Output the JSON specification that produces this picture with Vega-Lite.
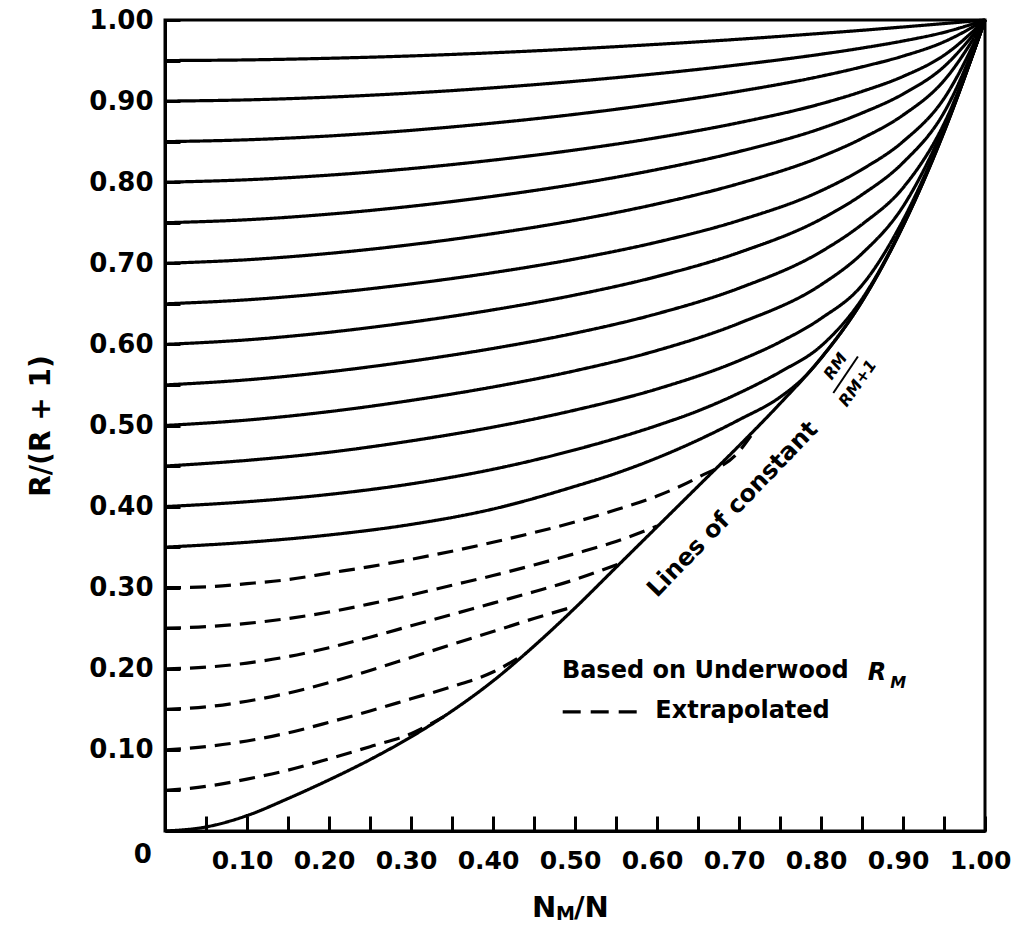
{
  "$schema": "https://vega.github.io/schema/vega-lite/v6.json",
  "width": 820,
  "height": 811,
  "autosize": "none",
  "padding": {"left": 165, "top": 20, "right": 30, "bottom": 96},
  "background": "white",
  "config": {
    "view": {"stroke": "black", "strokeWidth": 3},
    "font": "DejaVu Sans",
    "text": {"font": "DejaVu Sans", "fontWeight": "bold", "color": "black"},
    "axis": {
      "domainColor": "black", "domainWidth": 3,
      "tickColor": "black", "tickWidth": 3, "tickSize": -15,
      "labelFont": "DejaVu Sans", "labelFontSize": 26, "labelFontWeight": "bold", "labelColor": "black",
      "labelOverlap": false, "labelFlush": false, "grid": false,
      "titleFont": "DejaVu Sans", "titleColor": "black", "titleFontWeight": "bold"
    }
  },
  "datasets": {
    "curves": [
      {"c":0,"basis":"Underwood","x":0,"y":0},{"c":0,"basis":"Underwood","x":0.05,"y":0.005},{"c":0,"basis":"Underwood","x":0.1,"y":0.019},{"c":0,"basis":"Underwood","x":0.15,"y":0.04},{"c":0,"basis":"Underwood","x":0.2,"y":0.063},{"c":0,"basis":"Underwood","x":0.25,"y":0.088},{"c":0,"basis":"Underwood","x":0.3,"y":0.116},{"c":0,"basis":"Underwood","x":0.35,"y":0.148},{"c":0,"basis":"Underwood","x":0.4,"y":0.185},{"c":0,"basis":"Underwood","x":0.45,"y":0.228},{"c":0,"basis":"Underwood","x":0.5,"y":0.275},{"c":0,"basis":"Underwood","x":0.55,"y":0.325},{"c":0,"basis":"Underwood","x":0.6,"y":0.375},{"c":0,"basis":"Underwood","x":0.65,"y":0.425},{"c":0,"basis":"Underwood","x":0.7,"y":0.475},{"c":0,"basis":"Underwood","x":0.75,"y":0.527},{"c":0,"basis":"Underwood","x":0.8,"y":0.583},{"c":0,"basis":"Underwood","x":0.85,"y":0.653},{"c":0,"basis":"Underwood","x":0.9,"y":0.746},{"c":0,"basis":"Underwood","x":0.95,"y":0.862},{"c":0,"basis":"Underwood","x":1,"y":1},

      {"c":0.05,"basis":"Extrapolated","x":0,"y":0.05},{"c":0.05,"basis":"Extrapolated","x":0.05,"y":0.055},{"c":0.05,"basis":"Extrapolated","x":0.1,"y":0.064},{"c":0.05,"basis":"Extrapolated","x":0.15,"y":0.075},{"c":0.05,"basis":"Extrapolated","x":0.2,"y":0.089},{"c":0.05,"basis":"Extrapolated","x":0.25,"y":0.104},{"c":0.05,"basis":"Extrapolated","x":0.3,"y":0.12},{"c":0.05,"basis":"Extrapolated","x":0.34,"y":0.141},

      {"c":0.1,"basis":"Extrapolated","x":0,"y":0.1},{"c":0.1,"basis":"Extrapolated","x":0.05,"y":0.104},{"c":0.1,"basis":"Extrapolated","x":0.1,"y":0.111},{"c":0.1,"basis":"Extrapolated","x":0.15,"y":0.121},{"c":0.1,"basis":"Extrapolated","x":0.2,"y":0.134},{"c":0.1,"basis":"Extrapolated","x":0.25,"y":0.148},{"c":0.1,"basis":"Extrapolated","x":0.3,"y":0.163},{"c":0.1,"basis":"Extrapolated","x":0.35,"y":0.178},{"c":0.1,"basis":"Extrapolated","x":0.4,"y":0.196},{"c":0.1,"basis":"Extrapolated","x":0.44,"y":0.219},

      {"c":0.15,"basis":"Extrapolated","x":0,"y":0.15},{"c":0.15,"basis":"Extrapolated","x":0.05,"y":0.153},{"c":0.15,"basis":"Extrapolated","x":0.1,"y":0.16},{"c":0.15,"basis":"Extrapolated","x":0.15,"y":0.17},{"c":0.15,"basis":"Extrapolated","x":0.2,"y":0.183},{"c":0.15,"basis":"Extrapolated","x":0.25,"y":0.198},{"c":0.15,"basis":"Extrapolated","x":0.3,"y":0.214},{"c":0.15,"basis":"Extrapolated","x":0.35,"y":0.23},{"c":0.15,"basis":"Extrapolated","x":0.4,"y":0.246},{"c":0.15,"basis":"Extrapolated","x":0.45,"y":0.262},{"c":0.15,"basis":"Extrapolated","x":0.5,"y":0.277},

      {"c":0.2,"basis":"Extrapolated","x":0,"y":0.2},{"c":0.2,"basis":"Extrapolated","x":0.05,"y":0.202},{"c":0.2,"basis":"Extrapolated","x":0.1,"y":0.207},{"c":0.2,"basis":"Extrapolated","x":0.15,"y":0.215},{"c":0.2,"basis":"Extrapolated","x":0.2,"y":0.226},{"c":0.2,"basis":"Extrapolated","x":0.25,"y":0.239},{"c":0.2,"basis":"Extrapolated","x":0.3,"y":0.253},{"c":0.2,"basis":"Extrapolated","x":0.35,"y":0.267},{"c":0.2,"basis":"Extrapolated","x":0.4,"y":0.281},{"c":0.2,"basis":"Extrapolated","x":0.45,"y":0.295},{"c":0.2,"basis":"Extrapolated","x":0.5,"y":0.31},{"c":0.2,"basis":"Extrapolated","x":0.555,"y":0.33},

      {"c":0.25,"basis":"Extrapolated","x":0,"y":0.25},{"c":0.25,"basis":"Extrapolated","x":0.05,"y":0.252},{"c":0.25,"basis":"Extrapolated","x":0.1,"y":0.256},{"c":0.25,"basis":"Extrapolated","x":0.15,"y":0.262},{"c":0.25,"basis":"Extrapolated","x":0.2,"y":0.27},{"c":0.25,"basis":"Extrapolated","x":0.25,"y":0.28},{"c":0.25,"basis":"Extrapolated","x":0.3,"y":0.291},{"c":0.25,"basis":"Extrapolated","x":0.35,"y":0.303},{"c":0.25,"basis":"Extrapolated","x":0.4,"y":0.315},{"c":0.25,"basis":"Extrapolated","x":0.45,"y":0.328},{"c":0.25,"basis":"Extrapolated","x":0.5,"y":0.342},{"c":0.25,"basis":"Extrapolated","x":0.55,"y":0.357},{"c":0.25,"basis":"Extrapolated","x":0.6,"y":0.376},

      {"c":0.3,"basis":"Extrapolated","x":0,"y":0.3},{"c":0.3,"basis":"Extrapolated","x":0.05,"y":0.301},{"c":0.3,"basis":"Extrapolated","x":0.1,"y":0.305},{"c":0.3,"basis":"Extrapolated","x":0.15,"y":0.31},{"c":0.3,"basis":"Extrapolated","x":0.2,"y":0.318},{"c":0.3,"basis":"Extrapolated","x":0.25,"y":0.326},{"c":0.3,"basis":"Extrapolated","x":0.3,"y":0.335},{"c":0.3,"basis":"Extrapolated","x":0.35,"y":0.345},{"c":0.3,"basis":"Extrapolated","x":0.4,"y":0.356},{"c":0.3,"basis":"Extrapolated","x":0.45,"y":0.368},{"c":0.3,"basis":"Extrapolated","x":0.5,"y":0.381},{"c":0.3,"basis":"Extrapolated","x":0.55,"y":0.396},{"c":0.3,"basis":"Extrapolated","x":0.6,"y":0.413},{"c":0.3,"basis":"Extrapolated","x":0.65,"y":0.436},{"c":0.3,"basis":"Extrapolated","x":0.7,"y":0.468},{"c":0.3,"basis":"Extrapolated","x":0.715,"y":0.488},

      {"c":0.35,"basis":"Underwood","x":0,"y":0.35},{"c":0.35,"basis":"Underwood","x":0.1,"y":0.356},{"c":0.35,"basis":"Underwood","x":0.2,"y":0.365},{"c":0.35,"basis":"Underwood","x":0.3,"y":0.378},{"c":0.35,"basis":"Underwood","x":0.4,"y":0.397},{"c":0.35,"basis":"Underwood","x":0.5,"y":0.425},{"c":0.35,"basis":"Underwood","x":0.55,"y":0.441},{"c":0.35,"basis":"Underwood","x":0.6,"y":0.46},{"c":0.35,"basis":"Underwood","x":0.65,"y":0.482},{"c":0.35,"basis":"Underwood","x":0.7,"y":0.507},{"c":0.35,"basis":"Underwood","x":0.75,"y":0.535},{"c":0.35,"basis":"Underwood","x":0.78,"y":0.56},{"c":0.35,"basis":"Underwood","x":0.8,"y":0.583},{"c":0.35,"basis":"Underwood","x":0.85,"y":0.653},{"c":0.35,"basis":"Underwood","x":0.9,"y":0.746},{"c":0.35,"basis":"Underwood","x":0.95,"y":0.862},{"c":0.35,"basis":"Underwood","x":1,"y":1},

      {"c":0.4,"basis":"Underwood","x":0,"y":0.4},{"c":0.4,"basis":"Underwood","x":0.1,"y":0.406},{"c":0.4,"basis":"Underwood","x":0.2,"y":0.415},{"c":0.4,"basis":"Underwood","x":0.3,"y":0.428},{"c":0.4,"basis":"Underwood","x":0.4,"y":0.446},{"c":0.4,"basis":"Underwood","x":0.5,"y":0.47},{"c":0.4,"basis":"Underwood","x":0.6,"y":0.5},{"c":0.4,"basis":"Underwood","x":0.65,"y":0.518},{"c":0.4,"basis":"Underwood","x":0.7,"y":0.54},{"c":0.4,"basis":"Underwood","x":0.75,"y":0.566},{"c":0.4,"basis":"Underwood","x":0.8,"y":0.598},{"c":0.4,"basis":"Underwood","x":0.85,"y":0.656},{"c":0.4,"basis":"Underwood","x":0.9,"y":0.747},{"c":0.4,"basis":"Underwood","x":0.95,"y":0.863},{"c":0.4,"basis":"Underwood","x":1,"y":1},

      {"c":0.45,"basis":"Underwood","x":0,"y":0.45},{"c":0.45,"basis":"Underwood","x":0.1,"y":0.457},{"c":0.45,"basis":"Underwood","x":0.2,"y":0.467},{"c":0.45,"basis":"Underwood","x":0.3,"y":0.481},{"c":0.45,"basis":"Underwood","x":0.4,"y":0.498},{"c":0.45,"basis":"Underwood","x":0.5,"y":0.519},{"c":0.45,"basis":"Underwood","x":0.6,"y":0.545},{"c":0.45,"basis":"Underwood","x":0.7,"y":0.58},{"c":0.45,"basis":"Underwood","x":0.75,"y":0.603},{"c":0.45,"basis":"Underwood","x":0.8,"y":0.632},{"c":0.45,"basis":"Underwood","x":0.85,"y":0.673},{"c":0.45,"basis":"Underwood","x":0.9,"y":0.753},{"c":0.45,"basis":"Underwood","x":0.95,"y":0.864},{"c":0.45,"basis":"Underwood","x":1,"y":1},

      {"c":0.5,"basis":"Underwood","x":0,"y":0.5},{"c":0.5,"basis":"Underwood","x":0.1,"y":0.5067},{"c":0.5,"basis":"Underwood","x":0.2,"y":0.5171},{"c":0.5,"basis":"Underwood","x":0.3,"y":0.5309},{"c":0.5,"basis":"Underwood","x":0.4,"y":0.5475},{"c":0.5,"basis":"Underwood","x":0.5,"y":0.5675},{"c":0.5,"basis":"Underwood","x":0.6,"y":0.5925},{"c":0.5,"basis":"Underwood","x":0.7,"y":0.626},{"c":0.5,"basis":"Underwood","x":0.8,"y":0.6735},{"c":0.5,"basis":"Underwood","x":0.85,"y":0.712},{"c":0.5,"basis":"Underwood","x":0.9,"y":0.77},{"c":0.5,"basis":"Underwood","x":0.95,"y":0.868},{"c":0.5,"basis":"Underwood","x":1,"y":1},

      {"c":0.55,"basis":"Underwood","x":0,"y":0.55},{"c":0.55,"basis":"Underwood","x":0.1,"y":0.5563},{"c":0.55,"basis":"Underwood","x":0.2,"y":0.5662},{"c":0.55,"basis":"Underwood","x":0.3,"y":0.5793},{"c":0.55,"basis":"Underwood","x":0.4,"y":0.595},{"c":0.55,"basis":"Underwood","x":0.5,"y":0.6139},{"c":0.55,"basis":"Underwood","x":0.6,"y":0.6378},{"c":0.55,"basis":"Underwood","x":0.7,"y":0.6693},{"c":0.55,"basis":"Underwood","x":0.8,"y":0.7143},{"c":0.55,"basis":"Underwood","x":0.85,"y":0.748},{"c":0.55,"basis":"Underwood","x":0.9,"y":0.793},{"c":0.55,"basis":"Underwood","x":0.95,"y":0.872},{"c":0.55,"basis":"Underwood","x":1,"y":1},

      {"c":0.6,"basis":"Underwood","x":0,"y":0.6},{"c":0.6,"basis":"Underwood","x":0.1,"y":0.6056},{"c":0.6,"basis":"Underwood","x":0.2,"y":0.6149},{"c":0.6,"basis":"Underwood","x":0.3,"y":0.6274},{"c":0.6,"basis":"Underwood","x":0.4,"y":0.6426},{"c":0.6,"basis":"Underwood","x":0.5,"y":0.6609},{"c":0.6,"basis":"Underwood","x":0.6,"y":0.6837},{"c":0.6,"basis":"Underwood","x":0.7,"y":0.7133},{"c":0.6,"basis":"Underwood","x":0.8,"y":0.7545},{"c":0.6,"basis":"Underwood","x":0.85,"y":0.7846},{"c":0.6,"basis":"Underwood","x":0.9,"y":0.824},{"c":0.6,"basis":"Underwood","x":0.95,"y":0.8859},{"c":0.6,"basis":"Underwood","x":1,"y":1},

      {"c":0.65,"basis":"Underwood","x":0,"y":0.65},{"c":0.65,"basis":"Underwood","x":0.1,"y":0.655},{"c":0.65,"basis":"Underwood","x":0.2,"y":0.6633},{"c":0.65,"basis":"Underwood","x":0.3,"y":0.6746},{"c":0.65,"basis":"Underwood","x":0.4,"y":0.6885},{"c":0.65,"basis":"Underwood","x":0.5,"y":0.7053},{"c":0.65,"basis":"Underwood","x":0.6,"y":0.7261},{"c":0.65,"basis":"Underwood","x":0.7,"y":0.7528},{"c":0.65,"basis":"Underwood","x":0.8,"y":0.7894},{"c":0.65,"basis":"Underwood","x":0.85,"y":0.8158},{"c":0.65,"basis":"Underwood","x":0.9,"y":0.8501},{"c":0.65,"basis":"Underwood","x":0.95,"y":0.9032},{"c":0.65,"basis":"Underwood","x":1,"y":1},

      {"c":0.7,"basis":"Underwood","x":0,"y":0.7},{"c":0.7,"basis":"Underwood","x":0.1,"y":0.7044},{"c":0.7,"basis":"Underwood","x":0.2,"y":0.7122},{"c":0.7,"basis":"Underwood","x":0.3,"y":0.723},{"c":0.7,"basis":"Underwood","x":0.4,"y":0.7366},{"c":0.7,"basis":"Underwood","x":0.5,"y":0.753},{"c":0.7,"basis":"Underwood","x":0.6,"y":0.7732},{"c":0.7,"basis":"Underwood","x":0.7,"y":0.7983},{"c":0.7,"basis":"Underwood","x":0.8,"y":0.8314},{"c":0.7,"basis":"Underwood","x":0.85,"y":0.854},{"c":0.7,"basis":"Underwood","x":0.9,"y":0.8827},{"c":0.7,"basis":"Underwood","x":0.95,"y":0.9253},{"c":0.7,"basis":"Underwood","x":1,"y":1},

      {"c":0.75,"basis":"Underwood","x":0,"y":0.75},{"c":0.75,"basis":"Underwood","x":0.1,"y":0.7537},{"c":0.75,"basis":"Underwood","x":0.2,"y":0.7606},{"c":0.75,"basis":"Underwood","x":0.3,"y":0.7703},{"c":0.75,"basis":"Underwood","x":0.4,"y":0.7826},{"c":0.75,"basis":"Underwood","x":0.5,"y":0.7975},{"c":0.75,"basis":"Underwood","x":0.6,"y":0.8156},{"c":0.75,"basis":"Underwood","x":0.7,"y":0.8378},{"c":0.75,"basis":"Underwood","x":0.8,"y":0.8663},{"c":0.75,"basis":"Underwood","x":0.85,"y":0.8853},{"c":0.75,"basis":"Underwood","x":0.9,"y":0.9087},{"c":0.75,"basis":"Underwood","x":0.95,"y":0.9425},{"c":0.75,"basis":"Underwood","x":1,"y":1},

      {"c":0.8,"basis":"Underwood","x":0,"y":0.8},{"c":0.8,"basis":"Underwood","x":0.1,"y":0.803},{"c":0.8,"basis":"Underwood","x":0.2,"y":0.8087},{"c":0.8,"basis":"Underwood","x":0.3,"y":0.8168},{"c":0.8,"basis":"Underwood","x":0.4,"y":0.8272},{"c":0.8,"basis":"Underwood","x":0.5,"y":0.8397},{"c":0.8,"basis":"Underwood","x":0.6,"y":0.8549},{"c":0.8,"basis":"Underwood","x":0.7,"y":0.8734},{"c":0.8,"basis":"Underwood","x":0.8,"y":0.8967},{"c":0.8,"basis":"Underwood","x":0.85,"y":0.9119},{"c":0.8,"basis":"Underwood","x":0.9,"y":0.9304},{"c":0.8,"basis":"Underwood","x":0.95,"y":0.9565},{"c":0.8,"basis":"Underwood","x":1,"y":1},

      {"c":0.85,"basis":"Underwood","x":0,"y":0.85},{"c":0.85,"basis":"Underwood","x":0.1,"y":0.8523},{"c":0.85,"basis":"Underwood","x":0.2,"y":0.857},{"c":0.85,"basis":"Underwood","x":0.3,"y":0.8639},{"c":0.85,"basis":"Underwood","x":0.4,"y":0.8729},{"c":0.85,"basis":"Underwood","x":0.5,"y":0.8837},{"c":0.85,"basis":"Underwood","x":0.6,"y":0.8967},{"c":0.85,"basis":"Underwood","x":0.7,"y":0.9121},{"c":0.85,"basis":"Underwood","x":0.8,"y":0.9307},{"c":0.85,"basis":"Underwood","x":0.85,"y":0.9422},{"c":0.85,"basis":"Underwood","x":0.9,"y":0.9555},{"c":0.85,"basis":"Underwood","x":0.95,"y":0.9731},{"c":0.85,"basis":"Underwood","x":1,"y":1},

      {"c":0.9,"basis":"Underwood","x":0,"y":0.9},{"c":0.9,"basis":"Underwood","x":0.1,"y":0.9015},{"c":0.9,"basis":"Underwood","x":0.2,"y":0.9049},{"c":0.9,"basis":"Underwood","x":0.3,"y":0.9099},{"c":0.9,"basis":"Underwood","x":0.4,"y":0.9164},{"c":0.9,"basis":"Underwood","x":0.5,"y":0.9244},{"c":0.9,"basis":"Underwood","x":0.6,"y":0.9338},{"c":0.9,"basis":"Underwood","x":0.7,"y":0.9448},{"c":0.9,"basis":"Underwood","x":0.8,"y":0.9578},{"c":0.9,"basis":"Underwood","x":0.85,"y":0.9654},{"c":0.9,"basis":"Underwood","x":0.9,"y":0.9741},{"c":0.9,"basis":"Underwood","x":0.95,"y":0.9848},{"c":0.9,"basis":"Underwood","x":1,"y":1},

      {"c":0.95,"basis":"Underwood","x":0,"y":0.95},{"c":0.95,"basis":"Underwood","x":0.1,"y":0.9508},{"c":0.95,"basis":"Underwood","x":0.2,"y":0.9528},{"c":0.95,"basis":"Underwood","x":0.3,"y":0.9557},{"c":0.95,"basis":"Underwood","x":0.4,"y":0.9596},{"c":0.95,"basis":"Underwood","x":0.5,"y":0.9644},{"c":0.95,"basis":"Underwood","x":0.6,"y":0.97},{"c":0.95,"basis":"Underwood","x":0.7,"y":0.9763},{"c":0.95,"basis":"Underwood","x":0.8,"y":0.9835},{"c":0.95,"basis":"Underwood","x":0.85,"y":0.9873},{"c":0.95,"basis":"Underwood","x":0.9,"y":0.9914},{"c":0.95,"basis":"Underwood","x":0.95,"y":0.9956},{"c":0.95,"basis":"Underwood","x":1,"y":1}
    ]
  },
  "layer": [
    {
      "data": {"name": "curves"},
      "mark": {"type": "line", "color": "black", "strokeWidth": 3.2, "interpolate": "monotone"},
      "encoding": {
        "x": {"field": "x", "type": "quantitative",
              "scale": {"domain": [0, 1], "nice": false},
              "axis": {"title": null,
                       "values": [0.05,0.1,0.15,0.2,0.25,0.3,0.35,0.4,0.45,0.5,0.55,0.6,0.65,0.7,0.75,0.8,0.85,0.9,0.95,1.0],
                       "labelExpr": "abs(datum.value*10 - round(datum.value*10)) < 0.01 ? format(datum.value, '.2f') : ''",
                       "labelFontSize": 25, "labelOffset": -5, "labelPadding": 32}},
        "y": {"field": "y", "type": "quantitative",
              "scale": {"domain": [0, 1], "nice": false},
              "axis": {"title": "R/(R + 1)", "titleFontSize": 28, "titlePadding": 33,
                       "values": [0.05,0.1,0.15,0.2,0.25,0.3,0.35,0.4,0.45,0.5,0.55,0.6,0.65,0.7,0.75,0.8,0.85,0.9,0.95,1.0],
                       "labelExpr": "abs(datum.value*10 - round(datum.value*10)) < 0.01 ? format(datum.value, '.2f') : ''",
                       "labelPadding": 27}},
        "detail": {"field": "c"},
        "strokeDash": {"field": "basis", "type": "nominal",
                       "scale": {"domain": ["Underwood", "Extrapolated"], "range": [[1, 0], [16, 9]]},
                       "legend": null}
      }
    },
    {
      "data": {"values": [{"t": "0"}]},
      "mark": {"type": "text", "fontSize": 26, "align": "center", "baseline": "middle"},
      "encoding": {"x": {"datum": -0.027}, "y": {"datum": -0.03}, "text": {"field": "t"}}
    },
    {
      "data": {"values": [{"t": "N"}]},
      "mark": {"type": "text", "fontSize": 29, "align": "left", "baseline": "middle"},
      "encoding": {"x": {"datum": 0.4476}, "y": {"datum": -0.095}, "text": {"field": "t"}}
    },
    {
      "data": {"values": [{"t": "M"}]},
      "mark": {"type": "text", "fontSize": 19, "align": "left", "baseline": "middle"},
      "encoding": {"x": {"datum": 0.4768}, "y": {"datum": -0.1023}, "text": {"field": "t"}}
    },
    {
      "data": {"values": [{"t": "/N"}]},
      "mark": {"type": "text", "fontSize": 29, "align": "left", "baseline": "middle"},
      "encoding": {"x": {"datum": 0.4988}, "y": {"datum": -0.095}, "text": {"field": "t"}}
    },
    {
      "data": {"values": [{"t": "Based on Underwood"}]},
      "mark": {"type": "text", "fontSize": 24, "align": "left", "baseline": "middle"},
      "encoding": {"x": {"datum": 0.484}, "y": {"datum": 0.197}, "text": {"field": "t"}}
    },
    {
      "data": {"values": [{"t": "R"}]},
      "mark": {"type": "text", "fontSize": 24, "fontStyle": "italic", "align": "left", "baseline": "middle"},
      "encoding": {"x": {"datum": 0.857}, "y": {"datum": 0.195}, "text": {"field": "t"}}
    },
    {
      "data": {"values": [{"t": "M"}]},
      "mark": {"type": "text", "fontSize": 16, "fontStyle": "italic", "align": "left", "baseline": "middle"},
      "encoding": {"x": {"datum": 0.8846}, "y": {"datum": 0.182}, "text": {"field": "t"}}
    },
    {
      "data": {"values": [{"t": "Extrapolated"}]},
      "mark": {"type": "text", "fontSize": 24, "align": "left", "baseline": "middle"},
      "encoding": {"x": {"datum": 0.598}, "y": {"datum": 0.148}, "text": {"field": "t"}}
    },
    {
      "data": {"values": [{}]},
      "mark": {"type": "rule", "color": "black", "strokeWidth": 3.2, "strokeDash": [18, 10]},
      "encoding": {"x": {"datum": 0.485}, "x2": {"datum": 0.576}, "y": {"datum": 0.147}}
    },
    {
      "data": {"values": [{"t": "Lines of constant"}]},
      "mark": {"type": "text", "fontSize": 24, "angle": -46, "align": "left", "baseline": "alphabetic"},
      "encoding": {"x": {"datum": 0.6}, "y": {"datum": 0.287}, "text": {"field": "t"}}
    },
    {
      "data": {"values": [{"t": "RM"}]},
      "mark": {"type": "text", "fontSize": 16, "fontStyle": "italic", "angle": -55, "align": "center", "baseline": "middle"},
      "encoding": {"x": {"datum": 0.818}, "y": {"datum": 0.573}, "text": {"field": "t"}}
    },
    {
      "data": {"values": [{}]},
      "mark": {"type": "rule", "color": "black", "strokeWidth": 2},
      "encoding": {"x": {"datum": 0.815}, "y": {"datum": 0.54}, "x2": {"datum": 0.845}, "y2": {"datum": 0.585}}
    },
    {
      "data": {"values": [{"t": "RM+1"}]},
      "mark": {"type": "text", "fontSize": 16, "fontStyle": "italic", "angle": -55, "align": "center", "baseline": "middle"},
      "encoding": {"x": {"datum": 0.845}, "y": {"datum": 0.552}, "text": {"field": "t"}}
    }
  ]
}
